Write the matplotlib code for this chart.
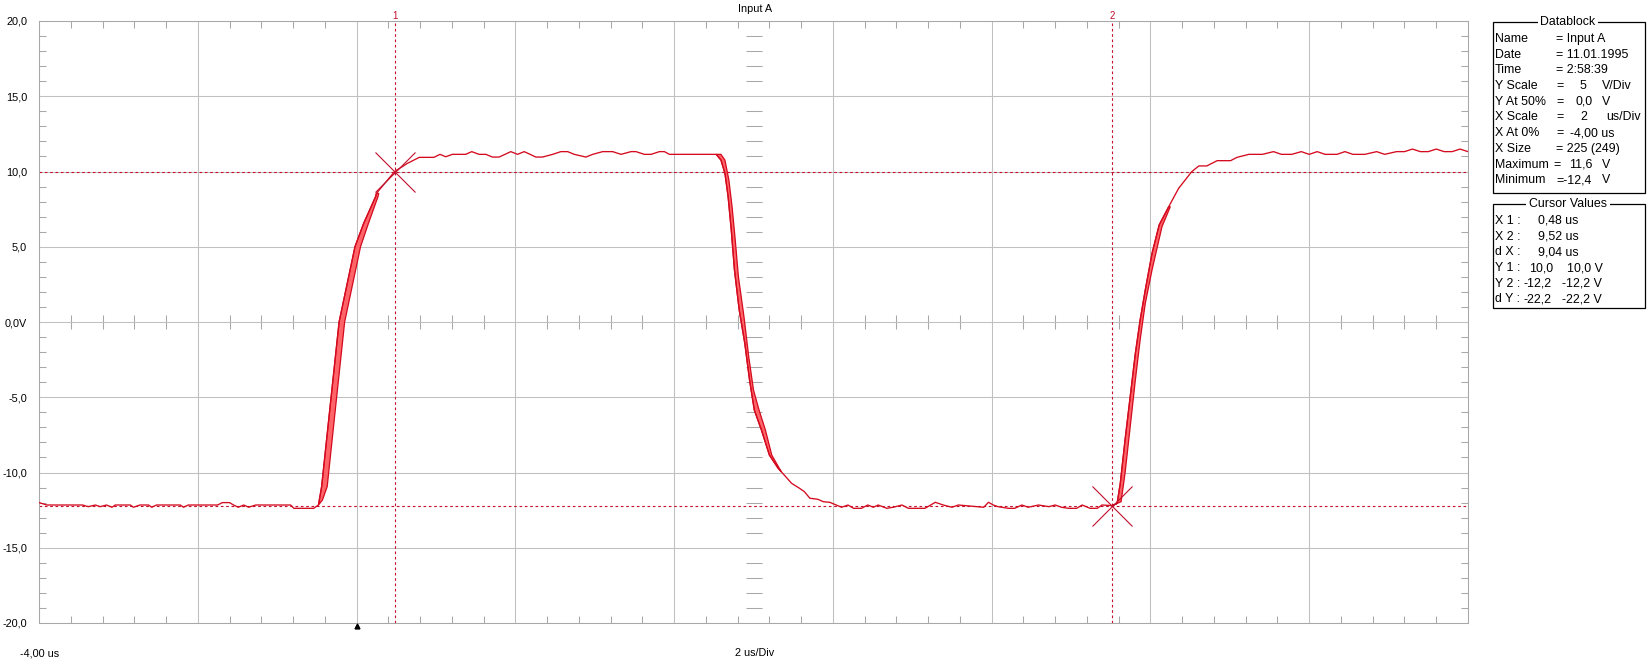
import numpy as np
import matplotlib
matplotlib.use("Agg")
import matplotlib.pyplot as plt
from matplotlib.patches import Rectangle

plt.rcParams["font.family"] = ["Liberation Sans", "DejaVu Sans"]

W_PX, H_PX = 1648, 662

# -------------------------------
# waveform
# -------------------------------
low1_t = [-4.00, -3.90, -3.45, -3.38, -3.29, -3.23, -3.15, -3.08, -3.04, -2.98,
          -2.85, -2.81, -2.73, -2.62, -2.58, -2.52, -2.22, -2.18, -2.12, -1.75,
          -1.69, -1.60, -1.55, -1.49, -1.42, -1.36, -1.27, -1.21, -0.83, -0.79,
          -0.54, -0.48]
low1_v = [-12.00, -12.16, -12.16, -12.27, -12.16, -12.27, -12.16, -12.31, -12.16, -12.16,
          -12.16, -12.31, -12.16, -12.16, -12.31, -12.16, -12.16, -12.31, -12.16, -12.16,
          -12.00, -12.00, -12.16, -12.31, -12.16, -12.31, -12.16, -12.16, -12.16, -12.38,
          -12.38, -12.16]

rise1_left_t = [-0.48, -0.44, -0.32, -0.22, -0.02, 0.09, 0.24, 0.25, 0.48, 0.64, 0.79, 0.975]
rise1_left_v = [-12.16, -10.94, -4.96, 0.0, 5.0, 6.56, 8.33, 8.55, 10.0, 10.54, 10.94, 10.94]
rise1_right_t = [-0.48, -0.43, -0.37, -0.25, -0.15, 0.05, 0.15, 0.27, 0.28]
rise1_right_v = [-12.16, -11.83, -10.94, -4.96, 0.0, 5.0, 6.56, 8.33, 8.55]

high1_t = [1.051, 1.123, 1.207, 1.375, 1.451, 1.543, 1.628, 1.712, 1.796, 1.943,
           2.028, 2.112, 2.259, 2.343, 2.470, 2.574, 2.659, 2.742, 2.890, 2.974,
           3.100, 3.226, 3.331, 3.457, 3.520, 3.625, 3.710, 3.815, 3.878, 3.941, 4.530]
high1_v = [11.14, 10.98, 11.14, 11.14, 11.32, 11.14, 11.14, 10.96, 10.96, 11.32,
           11.14, 11.32, 10.96, 10.96, 11.14, 11.32, 11.32, 11.14, 10.96, 11.14,
           11.32, 11.32, 11.14, 11.32, 11.32, 11.14, 11.14, 11.32, 11.32, 11.14, 11.14]

fall_left_t = [4.53, 4.59, 4.64, 4.68, 4.72, 4.76, 4.82, 4.89, 4.95, 5.01, 5.10, 5.20, 5.31, 5.35]
fall_left_v = [11.14, 10.76, 9.88, 8.33, 6.11, 3.46, 0.80, -1.41, -3.85, -5.85, -7.18, -8.84, -9.72, -9.95]
fall_right_t = [4.53, 4.59, 4.64, 4.69, 4.73, 4.77, 4.81, 4.88, 4.94, 5.00, 5.07, 5.15, 5.23, 5.35]
fall_right_v = [11.14, 11.14, 10.76, 9.43, 7.66, 5.45, 3.01, 0.35, -2.31, -4.52, -5.85, -7.18, -8.84, -9.95]

low2_t = [5.48, 5.58, 5.64, 5.71, 5.81, 5.88, 5.96, 6.04, 6.11, 6.19,
          6.26, 6.36, 6.44, 6.51, 6.57, 6.68, 6.76, 6.87, 6.95, 7.16,
          7.29, 7.39, 7.50, 7.58, 7.90, 7.96, 8.02, 8.08, 8.21, 8.29,
          8.38, 8.46, 8.59, 8.72, 8.80, 8.88, 8.97, 9.07, 9.14, 9.24,
          9.33, 9.39, 9.52]
low2_v = [-10.72, -11.05, -11.27, -11.71, -11.78, -11.94, -11.98, -12.16, -12.31, -12.16,
          -12.38, -12.38, -12.16, -12.31, -12.16, -12.38, -12.31, -12.16, -12.38, -12.38,
          -11.98, -12.16, -12.31, -12.16, -12.31, -11.98, -12.16, -12.27, -12.38, -12.38,
          -12.16, -12.31, -12.16, -12.27, -12.16, -12.31, -12.38, -12.38, -12.16, -12.38,
          -12.38, -12.16, -12.20]

rise2_left_t = [9.52, 9.58, 9.62, 9.68, 9.745, 9.81, 9.87, 9.935, 10.02, 10.11,
                10.23, 10.355, 10.52, 10.61, 10.71, 10.84, 11.01, 11.09, 11.24]
rise2_left_v = [-12.20, -12.05, -10.72, -7.84, -4.96, -2.08, 0.13, 2.13, 4.56, 6.45,
                7.66, 8.88, 9.99, 10.37, 10.37, 10.72, 10.72, 10.94, 11.14]
rise2_right_t = [9.52, 9.63, 9.68, 9.745, 9.81, 9.87, 9.935, 10.02, 10.145, 10.25]
rise2_right_v = [-12.20, -11.94, -10.05, -6.96, -3.85, -1.20, 1.24, 3.46, 6.33, 7.66]

high2_t = [11.41, 11.55, 11.65, 11.78, 11.90, 12.00, 12.10, 12.20, 12.35, 12.45,
           12.55, 12.70, 12.85, 12.95, 13.10, 13.20, 13.30, 13.40, 13.50, 13.60,
           13.70, 13.80, 13.90, 14.00]
high2_v = [11.14, 11.32, 11.14, 11.14, 11.32, 11.14, 11.32, 11.14, 11.14, 11.32,
           11.14, 11.14, 11.32, 11.14, 11.32, 11.32, 11.49, 11.32, 11.32, 11.49,
           11.32, 11.32, 11.49, 11.32]

# cursors
cursor_t = [0.48, 9.52]
cursor_v = [10.0, -12.2]
cursor_names = ["1", "2"]

# scope settings
x_min, x_max, x_div = -4.0, 14.0, 2.0
y_min, y_max, y_div = -20.0, 20.0, 5.0
x_center = 5.0

datablock_rows = [
    ("Name", [("= Input A", 1556)]),
    ("Date", [("= 11.01.1995", 1556)]),
    ("Time", [("= 2:58:39", 1556)]),
    ("Y Scale", [("=", 1556), ("5", 1580), ("V/Div", 1602)]),
    ("Y At 50%", [("=", 1556), ("0,0", 1575), ("V", 1602)]),
    ("X Scale", [("=", 1556), ("2", 1580), ("us/Div", 1606)]),
    ("X At 0%", [("=", 1556), ("-4,00 us", 1570)]),
    ("X Size", [("= 225 (249)", 1556)]),
    ("Maximum", [("=", 1553), ("11,6", 1569), ("V", 1602)]),
    ("Minimum", [("=-12,4", 1556), ("V", 1602)]),
]
cursor_rows = [
    ("X 1 :", [("0,48 us", 1538)]),
    ("X 2 :", [("9,52 us", 1538)]),
    ("d X :", [("9,04 us", 1538)]),
    ("Y 1 :", [("10,0", 1529), ("10,0 V", 1567)]),
    ("Y 2 :", [("-12,2", 1524), ("-12,2 V", 1562)]),
    ("d Y :", [("-22,2", 1524), ("-22,2 V", 1562)]),
]

TRACE = "#d40a1e"
FILL = "#ff6468"
CURSOR = "#c0102c"
GRID = "#c0c0c0"
BOX_FS = 8.9


def fx(px):
    return px / W_PX


def fy(py):
    return 1 - py / H_PX


fig = plt.figure(figsize=(W_PX / 100, H_PX / 100), dpi=100)
fig.patch.set_facecolor("white")
ax_l, ax_r, ax_t, ax_b = 39, 1468, 21, 623
ax = fig.add_axes([fx(ax_l), fy(ax_b), fx(ax_r - ax_l), (ax_b - ax_t) / H_PX])
ax.set_xlim(x_min, x_max)
ax.set_ylim(y_min, y_max)

# grid + ticks
major_x = np.arange(x_min, x_max + 0.01, x_div)
major_y = np.arange(y_min, y_max + 0.01, y_div)
minor_x = np.arange(x_min, x_max + 0.01, x_div / 5)
minor_y = np.arange(y_min, y_max + 0.01, y_div / 5)
ax.set_xticks(major_x)
ax.set_yticks(major_y)
ax.set_xticks(minor_x, minor=True)
ax.set_yticks(minor_y, minor=True)
ax.set_xticklabels([])
ax.set_yticklabels([f"{v:.1f}".replace(".", ",") + ("V" if v == 0 else "") for v in major_y])
ax.tick_params(which="major", length=0, pad=8.5, labelsize=7.8)
ax.tick_params(which="minor", direction="in", length=5.2, width=0.75, color="#a8a8a8",
               top=True, right=True, bottom=True, left=True)
ax.grid(True, which="major", color=GRID, lw=0.75)
for s in ax.spines.values():
    s.set_color("#a8a8a8")
    s.set_linewidth(0.75)

# center cross ticks
sel_x = (np.round(minor_x / x_div, 3) % 1) != 0
ax.plot(minor_x[sel_x], np.zeros(int(np.sum(sel_x))),
        ls="none", marker="|", ms=10.5, mew=0.75, color="#a8a8a8", zorder=1)
sel_y = (np.round(minor_y / y_div, 3) % 1) != 0
ax.plot(np.full(int(np.sum(sel_y)), x_center), minor_y[sel_y],
        ls="none", marker="_", ms=11.5, mew=0.75, color="#a8a8a8", zorder=1)

# cursor lines
for ct, cv, cn in zip(cursor_t, cursor_v, cursor_names):
    ax.axvline(ct, color=CURSOR, lw=0.8, ls=(0, (2.4, 2.4)), zorder=2)
    ax.axhline(cv, color=CURSOR, lw=0.8, ls=(0, (2.4, 2.4)), zorder=2)
    ax.plot([ct], [cv], marker="x", ms=29, mew=0.8, color=CURSOR, zorder=4)
    ax.text(ct, y_max, cn, transform=ax.transData, ha="center", va="bottom",
            fontsize=7, color=CURSOR)

# bands on the edges
bands = [
    (rise1_left_t[:8] + rise1_right_t[::-1], rise1_left_v[:8] + rise1_right_v[::-1]),
    (fall_left_t + fall_right_t[::-1], fall_left_v + fall_right_v[::-1]),
    (rise2_left_t[:11] + rise2_right_t[::-1], rise2_left_v[:11] + rise2_right_v[::-1]),
]
for bt, bv in bands:
    ax.fill(bt, bv, facecolor=FILL, edgecolor=TRACE, lw=0.9, zorder=3)

trace_t = low1_t + rise1_left_t + high1_t + fall_left_t + low2_t + rise2_left_t + high2_t
trace_v = low1_v + rise1_left_v + high1_v + fall_left_v + low2_v + rise2_left_v + high2_v
ax.plot(trace_t, trace_v, color=TRACE, lw=0.95, zorder=3)

# trigger marker
ax.plot([0.0], [y_min - 0.22], marker="^", ms=3.5, color="black", clip_on=False, zorder=5)

# labels around the screen
fig.text(fx(755), fy(9), "Input A", ha="center", va="center", fontsize=7.8)
fig.text(fx(20), fy(653), "-4,00 us", ha="left", va="center", fontsize=7.8)
fig.text(fx(755), fy(653), "2 us/Div", ha="center", va="center", fontsize=7.8)


# info boxes
def info_box(title, rows, top, bottom, first_row_y):
    fig.add_artist(Rectangle((fx(1493), fy(bottom)), fx(1645 - 1493), (bottom - top) / H_PX,
                             transform=fig.transFigure, fill=False, ec="black", lw=0.9))
    fig.text(fx(1568), fy(top), title, ha="center", va="center", fontsize=BOX_FS,
             bbox=dict(facecolor="white", edgecolor="none", pad=2.0))
    for i, (label, parts) in enumerate(rows):
        y = first_row_y + i * 15.7
        fig.text(fx(1495), fy(y), label, ha="left", va="center", fontsize=BOX_FS)
        for txt, xp in parts:
            fig.text(fx(xp), fy(y), txt, ha="left", va="center", fontsize=BOX_FS)


info_box("Datablock", datablock_rows, 22, 193, 39)
info_box("Cursor Values", cursor_rows, 204, 308, 221)

fig.savefig("out.png", dpi=100)
